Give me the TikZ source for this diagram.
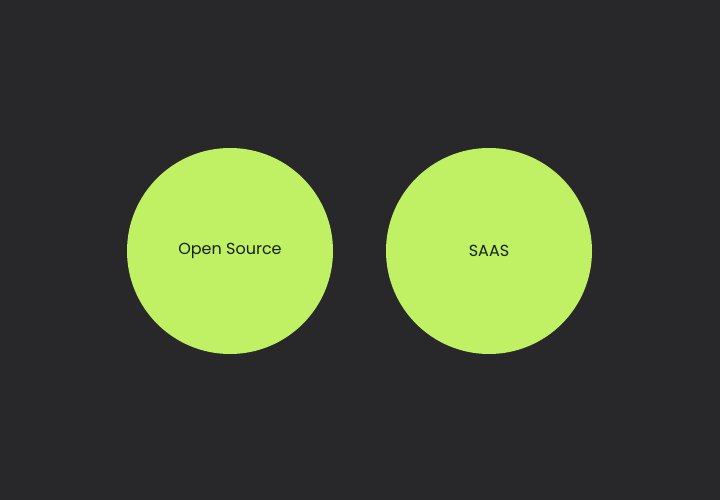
\documentclass[tikz,border=0pt]{standalone}
\usepackage{fontspec}
\setmainfont{Poppins}
\usepackage{xcolor}
\usetikzlibrary{positioning}
\definecolor{PageDark}{HTML}{28282A}
\definecolor{BlobGreen}{HTML}{C0F064}
\definecolor{BlobText}{HTML}{16220F}

\begin{document}
\begin{tikzpicture}[x=1pt,y=-1pt,
 blob/.style={circle,fill=BlobGreen,minimum size=206pt,inner sep=0pt,font=\fontsize{16}{19}\selectfont,text=BlobText}]
\fill[PageDark] (0,0) rectangle (720,500);
\useasboundingbox (0,0) rectangle (720,500);
\node[blob] (open) at (230,251) {Open Source};
\node[blob] (saas) at (489,251) {SAAS};
\end{tikzpicture}
\end{document}
